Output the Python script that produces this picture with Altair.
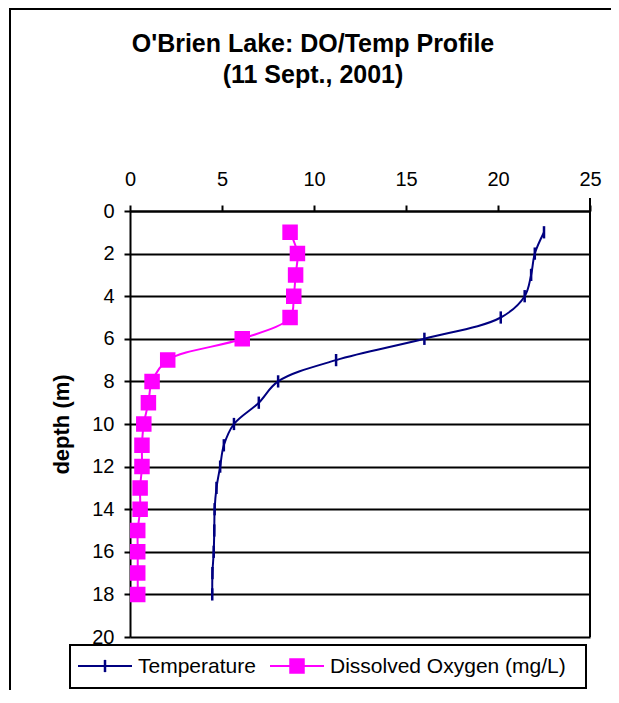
import altair as alt
import pandas as pd

# ---- data ----
depth = [1, 2, 3, 4, 5, 6, 7, 8, 9, 10, 11, 12, 13, 14, 15, 16, 17, 18]
temperature = [22.5, 22.0, 21.8, 21.45, 20.15, 16.0, 11.2, 8.05, 7.0, 5.65,
               5.1, 4.9, 4.7, 4.6, 4.58, 4.55, 4.48, 4.47]
dissolved_oxygen = [8.7, 9.1, 9.0, 8.9, 8.7, 6.1, 2.05, 1.2, 1.0, 0.75,
                    0.65, 0.65, 0.55, 0.55, 0.42, 0.42, 0.42, 0.42]
series_names = ["Temperature", "Dissolved Oxygen (mg/L)"]
series_colors = ["#000080", "#FF00FF"]
x_ticks = [0, 5, 10, 15, 20, 25]
y_ticks = [0, 2, 4, 6, 8, 10, 12, 14, 16, 18, 20]
title_lines = ["O'Brien Lake: DO/Temp Profile", "(11 Sept., 2001)"]

rows = []
for d, v in zip(depth, temperature):
    rows.append({"depth": d, "value": v, "series": series_names[0]})
for d, v in zip(depth, dissolved_oxygen):
    rows.append({"depth": d, "value": v, "series": series_names[1]})
df = pd.DataFrame(rows)

FONT = "Liberation Sans"
TICK_PATH = "M0,-1L0,1"

color_scale = alt.Scale(domain=series_names, range=series_colors)
shape_scale = alt.Scale(domain=series_names, range=[TICK_PATH, "square"])
size_scale = alt.Scale(domain=series_names, range=[150, 169])

x_enc = alt.X(
    "value:Q",
    scale=alt.Scale(domain=[0, 25], nice=False, zero=True),
    axis=alt.Axis(
        orient="top", values=x_ticks, title=None, grid=False,
        labelFont=FONT, labelFontSize=20, labelColor="black",
        labelPadding=16, labelFlush=False, labelOverlap=False,
        tickColor="black", tickSize=6, tickWidth=2,
        domainColor="black", domainWidth=2,
    ),
)
y_enc = alt.Y(
    "depth:Q",
    scale=alt.Scale(domain=[0, 20], reverse=True, nice=False, zero=True),
    axis=alt.Axis(
        values=y_ticks, title="depth (m)", grid=True,
        gridColor="black", gridWidth=2, gridOpacity=1,
        labelFont=FONT, labelFontSize=20, labelColor="black",
        labelPadding=10, labelFlush=False, labelOverlap=False,
        tickColor="black", tickSize=6, tickWidth=2,
        domainColor="black", domainWidth=2,
        titleFont=FONT, titleFontSize=22, titleFontWeight="bold",
        titleColor="black", titleAngle=270, titleX=-57, titleY=213,
        titleAlign="center", titleBaseline="bottom",
    ),
)

base = alt.Chart(df)

lines = base.mark_line(interpolate="catmull-rom", strokeWidth=2).encode(
    x=x_enc,
    y=y_enc,
    order=alt.Order("depth:Q"),
    color=alt.Color("series:N", scale=color_scale, legend=None),
    detail="series:N",
)

points = base.mark_point(filled=True, strokeWidth=2.5, opacity=1).encode(
    x=x_enc,
    y=y_enc,
    color=alt.Color("series:N", scale=color_scale, legend=None),
    stroke=alt.Stroke("series:N", scale=color_scale, legend=None),
    shape=alt.Shape("series:N", scale=shape_scale, legend=None),
    size=alt.Size("series:N", scale=size_scale, legend=None),
)

one = pd.DataFrame({"k": [0]})

# plot-area right border
plot_right = alt.Chart(one).mark_rule(color="black", strokeWidth=2).encode(
    x=alt.value(460), y=alt.value(-13), y2=alt.value(426))

# outer chart frame: only its left and top edges are inside the picture
frame_left = alt.Chart(one).mark_rule(color="black", strokeWidth=2).encode(
    x=alt.value(-120), y=alt.value(-203), y2=alt.value(482))
frame_top = alt.Chart(one).mark_rule(color="black", strokeWidth=2).encode(
    x=alt.value(-121), x2=alt.value(481), y=alt.value(-202))

# ---- legend (drawn as marks, positions in pixels relative to plot origin) ----
LEG_Y = 455
legend_box = alt.Chart(one).mark_rect(
    fill="white", stroke="black", strokeWidth=2
).encode(x=alt.value(-60), x2=alt.value(456), y=alt.value(434), y2=alt.value(477))

legend_layers = [legend_box]
entries = [(-52, 2, -25, 8), (140, 194, 167, 200)]
for (lx1, lx2, mx, tx), name, col, shp, sz in zip(
        entries, series_names, series_colors, [TICK_PATH, "square"], [150, 169]):
    legend_layers.append(
        alt.Chart(one).mark_rule(color=col, strokeWidth=2).encode(
            x=alt.value(lx1), x2=alt.value(lx2), y=alt.value(LEG_Y)))
    legend_layers.append(
        alt.Chart(one).mark_point(filled=True, fill=col, stroke=col, strokeWidth=2.5,
                                  shape=shp, size=sz, opacity=1).encode(
            x=alt.value(mx), y=alt.value(LEG_Y)))
    legend_layers.append(
        alt.Chart(one).mark_text(font=FONT, fontSize=21, color="black",
                                 align="left", baseline="middle").encode(
            x=alt.value(tx), y=alt.value(LEG_Y + 1), text=alt.value(name)))

chart = alt.layer(frame_left, frame_top, plot_right, lines, points,
                  *legend_layers).properties(
    width=460,
    height=426,
    padding={"left": 122, "top": 203, "right": 21, "bottom": 53},
    autosize=alt.AutoSizeParams(type="none"),
    title=alt.TitleParams(
        text=title_lines, font=FONT, fontSize=25, fontWeight="bold",
        color="black", anchor="middle", frame="group", dx=-47,
        offset=0, dy=81, lineHeight=31,
    ),
).configure_view(strokeOpacity=0).configure(background="white")

chart.save("out.html", embed_options={"renderer": "svg", "actions": False})
